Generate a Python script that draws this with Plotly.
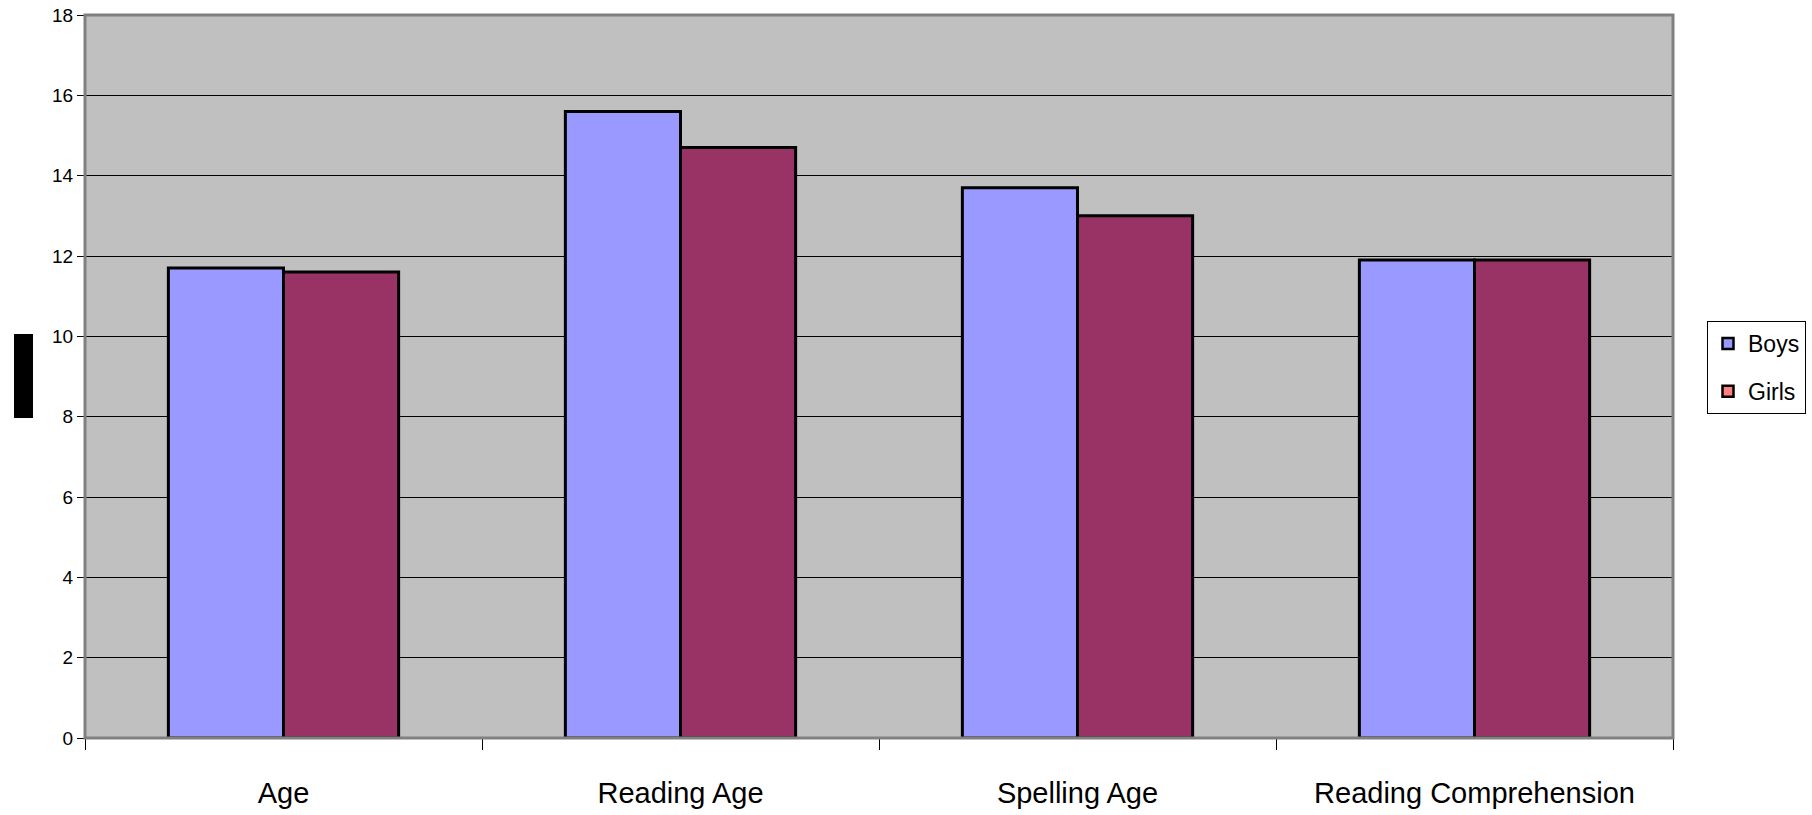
import plotly.graph_objects as go

# Mean scores by category
categories = ["Age", "Reading Age", "Spelling Age", "Reading Comprehension"]
boys = [11.7, 15.6, 13.7, 11.9]
girls = [11.6, 14.7, 13.0, 11.9]

series_names = ["Boys", "Girls"]
bar_colors = ["#9999FF", "#993366"]
legend_colors = ["#9999FF", "#FF8080"]

y_ticks = [0, 2, 4, 6, 8, 10, 12, 14, 16, 18]

font_family = "Liberation Sans Narrow, Arial Narrow, Liberation Sans, Arial, sans-serif"

W, H = 1812, 815
ML, MR, MT, MB = 85, 139, 15, 77
PW, PH = W - ML - MR, H - MT - MB

fig = go.Figure()

for name, vals, col in zip(series_names, [boys, girls], bar_colors):
    fig.add_trace(go.Bar(
        x=categories, y=vals, name=name, showlegend=False,
        marker=dict(color=col, line=dict(color="black", width=3)),
    ))

# Legend keys (square swatches with the key colours)
for name, col in zip(series_names, legend_colors):
    fig.add_trace(go.Scatter(
        x=[None], y=[None], name=name, mode="markers", legendgroup=name,
        marker=dict(symbol="square", size=11, color=col,
                    line=dict(color="black", width=2.5)),
    ))

fig.update_layout(
    width=W, height=H,
    margin=dict(l=ML, r=MR, t=MT, b=MB, autoexpand=False),
    paper_bgcolor="white",
    plot_bgcolor="#C0C0C0",
    barmode="group",
    bargap=0.42,
    bargroupgap=0,
    font=dict(family=font_family, color="black"),
    legend=dict(
        xref="container", yref="container",
        x=1707 / W, xanchor="left", y=1 - 321 / H, yanchor="top",
        bgcolor="white", bordercolor="black", borderwidth=1,
        font=dict(family=font_family, size=23, color="black"),
        tracegroupgap=15, traceorder="grouped",
        itemwidth=30,
    ),
    xaxis=dict(
        type="category", range=[-0.5, 3.5],
        tickson="boundaries", ticks="outside", ticklen=11,
        tickcolor="black", tickwidth=1,
        tickfont=dict(family=font_family, size=29, color="black"),
        showgrid=False, showline=False, zeroline=False,
        ticklabelstandoff=35,
    ),
    yaxis=dict(
        range=[0, 18], tickvals=y_ticks,
        ticks="outside", ticklen=7, tickcolor="black", tickwidth=1,
        tickfont=dict(family=font_family, size=19, color="black"),
        showgrid=True, gridcolor="black", gridwidth=1,
        zeroline=False, showline=False,
    ),
    shapes=[
        # plot area border
        dict(type="rect", xref="paper", yref="paper", x0=0, x1=1, y0=0, y1=1,
             line=dict(color="#808080", width=3), layer="above"),
        # y-axis title block
        dict(type="rect", xref="paper", yref="paper",
             x0=(14 - ML) / PW, x1=(33 - ML) / PW,
             y0=(H - MB - 418) / PH, y1=(H - MB - 334) / PH,
             fillcolor="black", line=dict(width=0)),
    ],
)

fig.write_html("out.html")
